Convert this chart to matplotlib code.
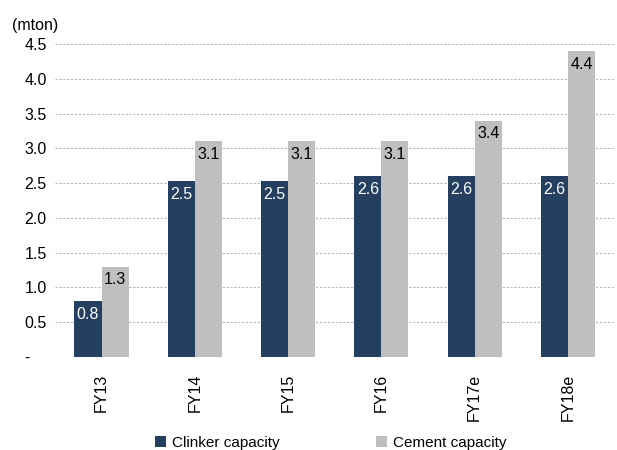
import numpy as np
import matplotlib
matplotlib.use("Agg")
import matplotlib.pyplot as plt
from matplotlib.ticker import FuncFormatter

plt.rcParams['font.family'] = ['Liberation Sans', 'DejaVu Sans']

years = ["FY13", "FY14", "FY15", "FY16", "FY17e", "FY18e"]
clinker = [0.8, 2.53, 2.53, 2.6, 2.6, 2.6]
cement = [1.3, 3.1, 3.1, 3.1, 3.4, 4.4]
clinker_labels = ["0.8", "2.5", "2.5", "2.6", "2.6", "2.6"]
cement_labels = ["1.3", "3.1", "3.1", "3.1", "3.4", "4.4"]

navy = "#243f60"
grey = "#bfbfbf"

fig = plt.figure(figsize=(6.17, 4.5), dpi=100)
ax = fig.add_axes([0.089, 0.207, 0.907, 0.695])

x = np.arange(len(years))
w = 0.29
b1 = ax.bar(x - w / 2, clinker, w, color=navy, label="Clinker capacity", zorder=3)
b2 = ax.bar(x + w / 2, cement, w, color=grey, label="Cement capacity", zorder=3)

for rect, lab in zip(b1, clinker_labels):
    ax.text(rect.get_x() + rect.get_width() / 2, rect.get_height() - 0.08, lab,
            ha="center", va="top", color="white", fontsize=11.5, zorder=4)
for rect, lab in zip(b2, cement_labels):
    ax.text(rect.get_x() + rect.get_width() / 2, rect.get_height() - 0.08, lab,
            ha="center", va="top", color="black", fontsize=11.5, zorder=4)

ax.set_ylim(0, 4.5)
ax.set_xlim(-0.5, len(years) - 0.5)
ax.set_yticks(np.arange(0, 4.51, 0.5))
ax.yaxis.set_major_formatter(FuncFormatter(lambda v, p: "-" if v == 0 else f"{v:.1f}"))
ax.set_xticks(x)
ax.set_xticklabels(years, rotation=90)
ax.tick_params(axis="both", length=0, labelsize=11.5)
ax.tick_params(axis="x", pad=12)
ax.tick_params(axis="y", pad=22)
for lab in ax.get_yticklabels():
    lab.set_horizontalalignment("left")

ax.grid(axis="y", color="#b8b8b8", linestyle=(0, (2, 1.5)), linewidth=0.8, zorder=0)
for s in ax.spines.values():
    s.set_visible(False)

ax.text(-0.077, 1.035, "(mton)", transform=ax.transAxes, fontsize=11.5, ha="left", va="bottom")

fig.legend(loc="lower center", bbox_to_anchor=(0.536, -0.03), ncol=2, frameon=False,
           fontsize=11, handlelength=0.7, handleheight=0.7, columnspacing=6.3, handletextpad=0.4)

fig.savefig("out.png", dpi=100)
